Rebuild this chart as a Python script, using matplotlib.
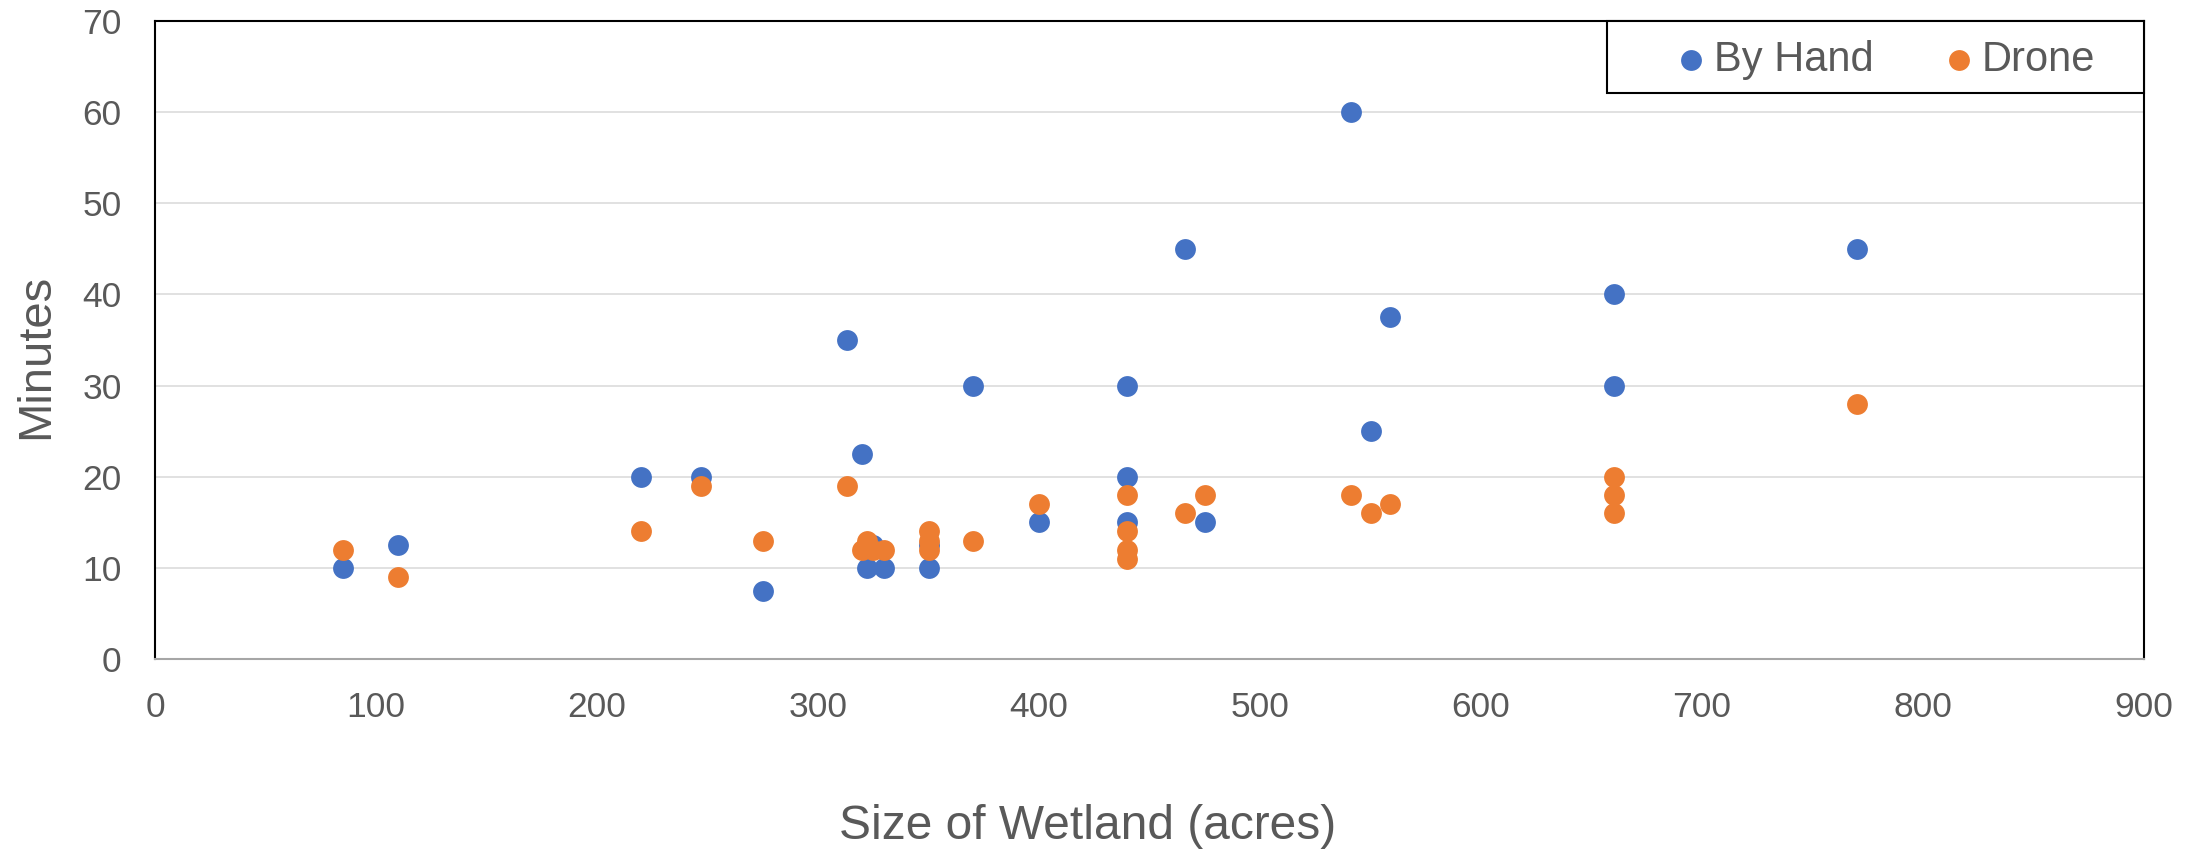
import matplotlib
matplotlib.use("Agg")
import matplotlib.pyplot as plt
from matplotlib.patches import Rectangle

plt.rcParams['font.family'] = ['Liberation Sans', 'DejaVu Sans']

# ---- data ----
hand_x = [85, 110, 220, 247, 275, 313, 320, 322, 325, 330, 350, 350, 370, 400,
          440, 440, 440, 466, 475, 541, 550, 559, 660, 660, 770]
hand_y = [10, 12.5, 20, 20, 7.5, 35, 22.5, 10, 12.5, 10, 10, 12.5, 30, 15,
          30, 20, 15, 45, 15, 60, 25, 37.5, 40, 30, 45]

drone_x = [85, 110, 220, 247, 275, 313, 320, 322, 325, 330, 350, 350, 350, 370,
           400, 440, 440, 440, 440, 466, 475, 541, 550, 559, 660, 660, 660, 770]
drone_y = [12, 9, 14, 19, 13, 19, 12, 13, 12, 12, 14, 13, 12, 13,
           17, 18, 14, 12, 11, 16, 18, 18, 16, 17, 20, 18, 16, 28]

x_ticks = [0, 100, 200, 300, 400, 500, 600, 700, 800, 900]
y_ticks = [0, 10, 20, 30, 40, 50, 60, 70]

text_col = '#595959'

fig = plt.figure(figsize=(22.08, 8.51), dpi=100)
ax = fig.add_axes([155/2208, 1 - 659/851, 1989/2208, 638/851])

ax.scatter(hand_x, hand_y, s=225, color='#4472C4', label='By Hand', zorder=3, linewidths=0)
ax.scatter(drone_x, drone_y, s=225, color='#ED7D31', label='Drone', zorder=4, linewidths=0)

ax.set_xlim(0, 900)
ax.set_ylim(0, 70)
ax.set_xticks(x_ticks)
ax.set_yticks(y_ticks)
ax.tick_params(length=0, labelsize=25.5, labelcolor=text_col, pad=24)
ax.tick_params(axis='x', pad=23)

ax.grid(axis='y', color='#D9D9D9', linewidth=1.1, zorder=0)
ax.set_axisbelow(True)

for side in ['left', 'right', 'top']:
    ax.spines[side].set_color('black')
    ax.spines[side].set_linewidth(1.5)
ax.spines['bottom'].set_color('#A6A6A6')
ax.spines['bottom'].set_linewidth(1.5)

ax.set_xlabel('Size of Wetland (acres)', fontsize=34.5, color=text_col)
ax.set_ylabel('Minutes', fontsize=34, color=text_col)
ax.xaxis.set_label_coords(0.469, -0.262)
ax.yaxis.set_label_coords(-0.060, 0.475)
ax.xaxis.label.set_va('center')
ax.yaxis.label.set_va('center')

# legend box drawn on its own, legend centred inside it
box = (0.730, 0.887, 0.270, 0.113)
ax.add_patch(Rectangle(box[:2], box[2], box[3], transform=ax.transAxes,
                       facecolor='white', edgecolor='black', linewidth=1.5,
                       clip_on=False, zorder=5))
leg = ax.legend(loc='center', bbox_to_anchor=(box[0] + 0.005, box[1] - 0.005, box[2], box[3]),
                ncol=2, frameon=False,
                fontsize=30, handlelength=0.7, handletextpad=0.2,
                columnspacing=1.7, borderpad=0)
leg.set_zorder(6)
for t in leg.get_texts():
    t.set_color(text_col)

fig.savefig('out.png', dpi=100)
